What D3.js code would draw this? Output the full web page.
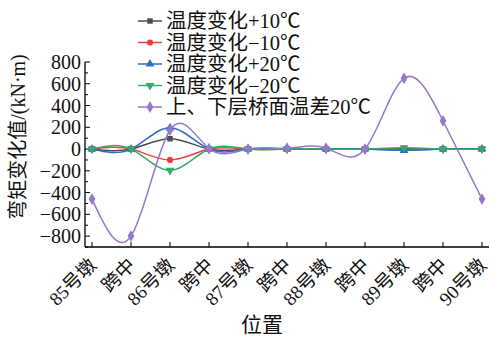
<!DOCTYPE html>
<html><head><meta charset="utf-8">
<script src="https://cdn.jsdelivr.net/npm/d3@7"></script>
<style>
html,body{margin:0;padding:0;background:#fff;}
svg{display:block;}
text{font-family:"Liberation Serif","Noto Sans CJK SC",serif;fill:#111;}
</style></head>
<body><svg id="c" width="490" height="337"></svg>
<script>
const categories = ["85号墩","跨中","86号墩","跨中","87号墩","跨中","88号墩","跨中","89号墩","跨中","90号墩"];
const seriesNames = ["温度变化+10℃","温度变化−10℃","温度变化+20℃","温度变化−20℃","上、下层桥面温差20℃"];
const plus10 = [0, 0, 95, 0, 0, 0, 0, 0, 5, 0, 0];
const minus10 = [0, 0, -100, 0, 0, 0, 0, 0, -5, 0, 0];
const plus20 = [0, 0, 195, 0, 0, 0, 0, 0, -12, 0, 0];
const minus20 = [0, 0, -195, 0, 0, 0, 0, 0, 12, 0, 0];
const gradient20 = [-460, -800, 175, 5, 0, 8, 8, 0, 650, 260, -460];
const yTicks = [-800,-600,-400,-200,0,200,400,600,800];
const yMinorTicks = [-900,-700,-500,-300,-100,100,300,500,700];

const colors = ["#4d4d4d","#e8403f","#2e6fc8","#35a86a","#9777c9"];
const symbols = [d3.symbolSquare, d3.symbolCircle, d3.symbolTriangle, d3.symbolTriangle, d3.symbolDiamond];
const rot = [0,0,0,180,0];
const symSize = [30,30,34,34,40];
const allSeries = [plus10, minus10, plus20, minus20, gradient20];

const svg = d3.select("#c");
const pLeft = 85, pRight = 489, pTop = 62, pBottom = 247;
const x = d3.scalePoint().domain(d3.range(categories.length)).range([92, 482]);
const y = d3.scaleLinear().domain([-900, 800]).range([pBottom, pTop]);

// axes lines
svg.append("line").attr("x1",pLeft).attr("x2",pLeft).attr("y1",pTop).attr("y2",pBottom).attr("stroke","#000").attr("stroke-width",1.3);
svg.append("line").attr("x1",pLeft).attr("x2",pRight).attr("y1",pBottom).attr("y2",pBottom).attr("stroke","#000").attr("stroke-width",1.3);
// y ticks (inward)
yTicks.forEach(v=>{
  svg.append("line").attr("x1",pLeft).attr("x2",pLeft+5).attr("y1",y(v)).attr("y2",y(v)).attr("stroke","#000").attr("stroke-width",1);
  svg.append("text").attr("x",pLeft-4).attr("y",y(v)).attr("dy","0.35em").attr("text-anchor","end").attr("font-size",20).text(v<0?"−"+Math.abs(v):v);
});
yMinorTicks.forEach(v=>{
  svg.append("line").attr("x1",pLeft).attr("x2",pLeft+3).attr("y1",y(v)).attr("y2",y(v)).attr("stroke","#000").attr("stroke-width",1);
});
// x ticks
categories.forEach((c,i)=>{
  svg.append("line").attr("x1",x(i)).attr("x2",x(i)).attr("y1",pBottom).attr("y2",pBottom-5).attr("stroke","#000").attr("stroke-width",1);
  svg.append("text").attr("transform",`translate(${x(i)-4},${pBottom+10}) rotate(-45)`).attr("text-anchor","end").attr("dy","0.7em").attr("font-size",19).text(c);
});
// titles
svg.append("text").attr("x",262).attr("y",332).attr("text-anchor","middle").attr("font-size",21).text("位置");
svg.append("text").attr("transform",`translate(25,137) rotate(-90)`).attr("text-anchor","middle").attr("font-size",20).text("弯矩变化值/(kN·m)");

// series
const line = d3.line().x((d,i)=>x(i)).y(d=>y(d)).curve(d3.curveNatural);
allSeries.forEach((data,k)=>{
  svg.append("path").attr("d",line(data)).attr("fill","none").attr("stroke",colors[k]).attr("stroke-width",1.5);
  data.forEach((d,i)=>{
    svg.append("path").attr("d",d3.symbol().type(symbols[k]).size(symSize[k])())
      .attr("transform",`translate(${x(i)},${y(d)}) rotate(${rot[k]})`).attr("fill",colors[k]);
  });
});

// legend
seriesNames.forEach((n,k)=>{
  const ly = 21 + k*21.5;
  svg.append("line").attr("x1",138).attr("x2",162).attr("y1",ly).attr("y2",ly).attr("stroke",colors[k]).attr("stroke-width",1.5);
  svg.append("path").attr("d",d3.symbol().type(symbols[k]).size(symSize[k])()).attr("transform",`translate(150,${ly}) rotate(${rot[k]})`).attr("fill",colors[k]);
  svg.append("text").attr("x",166).attr("y",ly).attr("dy","0.36em").attr("font-size",20.5).text(n);
});
</script></body></html>
